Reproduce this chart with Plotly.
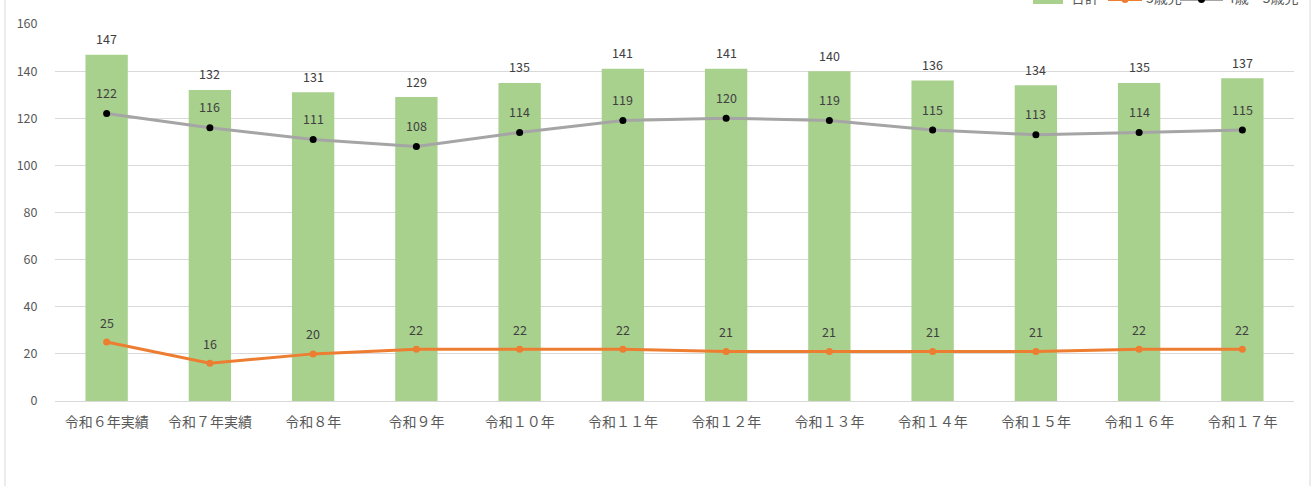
import plotly.graph_objects as go

categories = ["令和６年実績", "令和７年実績", "令和８年", "令和９年", "令和１０年", "令和１１年",
              "令和１２年", "令和１３年", "令和１４年", "令和１５年", "令和１６年", "令和１７年"]
total = [147, 132, 131, 129, 135, 141, 141, 140, 136, 134, 135, 137]
age3 = [25, 16, 20, 22, 22, 22, 21, 21, 21, 21, 22, 22]
age45 = [122, 116, 111, 108, 114, 119, 120, 119, 115, 113, 114, 115]
series_names = ["合計", "3歳児", "4歳・5歳児"]

FONT = "Noto Sans CJK JP"
W, H = 1314, 486
ml, mr, mt, mb = 55, 20, 24, 85
pw = W - ml - mr
ph = H - mt - mb

GREEN, ORANGE, GRAY = "#A9D18E", "#ED7D31", "#A5A5A5"


def px2x(px):
    return (px - ml) / pw


def px2y(py):
    return 1 - (py - mt) / ph


fig = go.Figure()
fig.add_trace(go.Bar(
    x=categories, y=total, name=series_names[0],
    marker=dict(color=GREEN, line=dict(width=0)),
    width=0.41, showlegend=False,
))
fig.add_trace(go.Scatter(
    x=categories, y=age3, name=series_names[1],
    mode="lines+markers",
    line=dict(color=ORANGE, width=3),
    marker=dict(color=ORANGE, size=7),
    cliponaxis=False, showlegend=False,
))
fig.add_trace(go.Scatter(
    x=categories, y=age45, name=series_names[2],
    mode="lines+markers",
    line=dict(color=GRAY, width=3),
    marker=dict(color="#000000", size=7),
    cliponaxis=False, showlegend=False,
))

annotations = []
for vals, shift in ((total, 16), (age3, 20), (age45, 21)):
    for c, v in zip(categories, vals):
        annotations.append(dict(x=c, y=v, text=str(v), showarrow=False, yshift=shift,
                                yanchor="middle", xanchor="center",
                                font=dict(size=12.5, color="#404040", family=FONT)))

# custom legend (partly cut by the top edge, as in the reference)
legend_text_y = px2y(-3)
for name, left in zip(series_names, (1069, 1144, 1225)):
    annotations.append(dict(xref="paper", yref="paper", x=px2x(left), y=legend_text_y,
                            text=name, showarrow=False, xanchor="left", yanchor="middle",
                            font=dict(size=14, color="#595959", family=FONT)))

shapes = [
    dict(type="line", xref="paper", yref="paper",
         x0=px2x(5), x1=px2x(5), y0=px2y(H), y1=px2y(0),
         line=dict(color="#D9D9D9", width=1)),
    dict(type="line", xref="paper", yref="paper",
         x0=px2x(1310), x1=px2x(1310), y0=px2y(H), y1=px2y(0),
         line=dict(color="#D9D9D9", width=1)),
    # legend symbols
    dict(type="rect", xref="paper", yref="paper",
         x0=px2x(1033), x1=px2x(1063), y0=px2y(4), y1=px2y(-10),
         fillcolor=GREEN, line=dict(width=0)),
    dict(type="line", xref="paper", yref="paper",
         x0=px2x(1108), x1=px2x(1142), y0=px2y(-0.5), y1=px2y(-0.5),
         line=dict(color=ORANGE, width=3)),
    dict(type="circle", xref="paper", yref="paper",
         x0=px2x(1121.5), x1=px2x(1128.5), y0=px2y(3), y1=px2y(-4),
         fillcolor=ORANGE, line=dict(width=0)),
    dict(type="line", xref="paper", yref="paper",
         x0=px2x(1180), x1=px2x(1223), y0=px2y(-0.5), y1=px2y(-0.5),
         line=dict(color=GRAY, width=3)),
    dict(type="circle", xref="paper", yref="paper",
         x0=px2x(1198), x1=px2x(1205), y0=px2y(3), y1=px2y(-4),
         fillcolor="#000000", line=dict(width=0)),
]

fig.update_layout(
    width=W, height=H,
    margin=dict(l=ml, r=mr, t=mt, b=mb, autoexpand=False),
    paper_bgcolor="white", plot_bgcolor="white",
    font=dict(family=FONT, size=12, color="#595959"),
    bargap=0.59,
    showlegend=False,
    annotations=annotations,
    shapes=shapes,
    xaxis=dict(range=[-0.5, len(categories) - 0.5], showgrid=False, showline=True,
               linecolor="#D9D9D9", linewidth=1,
               ticks="outside", ticklen=8, tickcolor="rgba(0,0,0,0)",
               tickfont=dict(size=14, color="#595959", family=FONT)),
    yaxis=dict(range=[0, 160], dtick=20, showgrid=True, gridcolor="#D9D9D9", gridwidth=1,
               zeroline=False, showline=False, ticks="outside", ticklen=14,
               tickcolor="rgba(0,0,0,0)",
               tickfont=dict(size=12.5, color="#595959", family=FONT)),
)

fig.write_html(
    "out.html",
    config={"responsive": False, "displayModeBar": False},
    post_script="document.body.style.margin='0';document.body.style.overflow='hidden';",
)
